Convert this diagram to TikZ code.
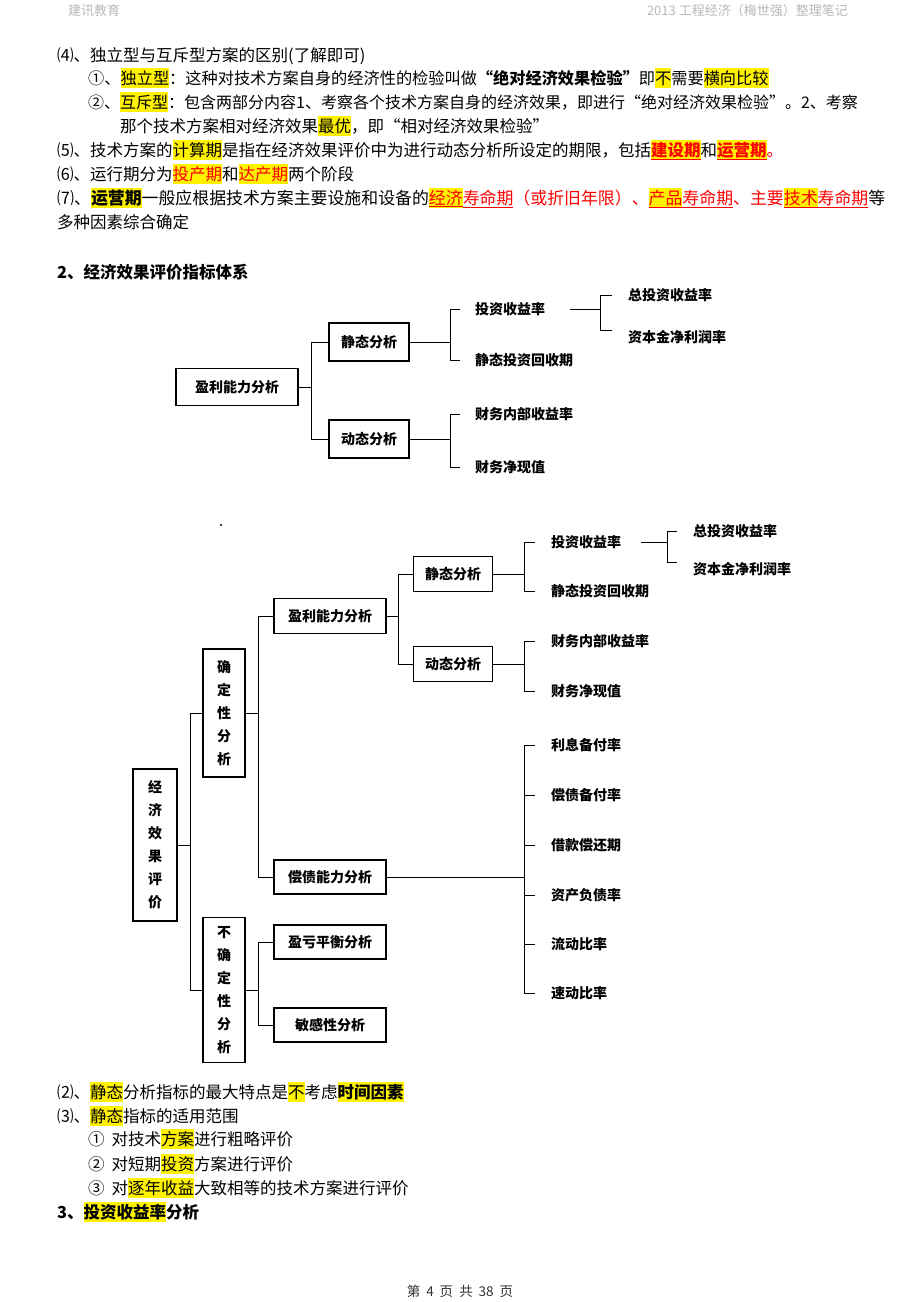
\documentclass[tikz,border=0pt]{standalone}
\usepackage{fontspec}
\setmainfont{Noto Sans CJK SC}
\usetikzlibrary{positioning}

% yellow marker and red underline used in the notes
\newcommand\hl[1]{{\setlength\fboxsep{0pt}\colorbox{yellow}{\rule[-4pt]{0pt}{20pt}#1}}}
\newcommand\redul[1]{\textcolor{red}{\underline{#1}}}

\tikzset{
  line/.style={anchor=base west, inner sep=0pt, font=\fontsize{16.5}{20}\selectfont},
  head/.style={line, font=\fontsize{13}{13}\selectfont, text=gray!55},
  box/.style={draw, line width=1.3pt, inner sep=0pt, font=\bfseries\fontsize{14}{14}\selectfont},
  vbox/.style={box, align=center, font=\bfseries\fontsize{14}{23}\selectfont},
  leaf/.style={anchor=west, inner sep=0pt, font=\bfseries\fontsize{14}{14}\selectfont},
  link/.style={line width=1pt},
}

\begin{document}
\begin{tikzpicture}[x=1pt,y=-1pt]
    \fill[white] (0,0) rectangle (920,1302);
    \useasboundingbox (0,0) rectangle (920,1302);

    % Page header
    \node[head] (hdl) at (68,15) {建讯教育};
    \node[head, anchor=base east] (hdr) at (848,15) {2013 工程经济（梅世强）整理笔记};

    % Notes above the charts
    \node[line] (l1) at (57,61) {⑷、独立型与互斥型方案的区别(了解即可)};
    \node[line, font=\fontsize{16.2}{20}\selectfont] (l2) at (88,84) {①、\hl{独立型}：这种对技术方案自身的经济性的检验叫做\textbf{“绝对经济效果检验”}即\hl{不}需要\hl{横向比较}};
    \node[line, font=\fontsize{16}{20}\selectfont] (l3) at (88,108) {②、\hl{互斥型}：包含两部分内容1、考察各个技术方案自身的经济效果，即进行“绝对经济效果检验”。2、考察};
    \node[line] (l4) at (120,132) {那个技术方案相对经济效果\hl{最优}，即“相对经济效果检验”};
    \node[line] (l5) at (57,156) {⑸、技术方案的\hl{计算期}是指在经济效果评价中为进行动态分析所设定的期限，包括\hl{\textbf{\redul{建设期}}}和\hl{\textbf{\redul{运营期}}}\textcolor{red}{。}};
    \node[line] (l6) at (57,180) {⑹、运行期分为\hl{\textcolor{red}{投产期}}和\hl{\textcolor{red}{达产期}}两个阶段};
    \node[line, font=\fontsize{16.9}{20}\selectfont] (l7) at (57,204) {⑺、\hl{\textbf{运营期}}一般应根据技术方案主要设施和设备的\hl{\redul{经济}}\redul{寿命期}\textcolor{red}{（或折旧年限）、}\hl{\redul{产品}}\redul{寿命期}\textcolor{red}{、主要}\hl{\redul{技术}}\redul{寿命期}等};
    \node[line] (l8) at (57,228) {多种因素综合确定};
    \node[line, font=\bfseries\fontsize{16.5}{20}\selectfont] (s2) at (57,278) {2、经济效果评价指标体系};

    % Chart 1
    \node[box, minimum width=122pt, minimum height=37pt] (yl1) at (237,387) {盈利能力分析};
    \node[box, minimum width=80pt, minimum height=38pt] (jt1) at (369,342) {静态分析};
    \node[box, minimum width=80pt, minimum height=38pt] (dt1) at (369,439) {动态分析};
    \node[leaf] (tz1) at (475,309) {投资收益率};
    \node[leaf] (jh1) at (475,360) {静态投资回收期};
    \node[leaf] (nb1) at (475,414) {财务内部收益率};
    \node[leaf] (jx1) at (475,467) {财务净现值};
    \node[leaf] (zt1) at (628,295) {总投资收益率};
    \node[leaf] (zb1) at (628,337) {资本金净利润率};

    \draw[link] (yl1.east) -- ++(13,0) coordinate (t1) (t1) |- (jt1.west) (t1) |- (dt1.west);
    \draw[link] (jt1.east) -- ++(41,0) coordinate (t2) (t2) |- ([xshift=-15pt]tz1.west) (t2) |- ([xshift=-15pt]jh1.west);
    \draw[link] (dt1.east) -- ++(41,0) coordinate (t3) (t3) |- ([xshift=-15pt]nb1.west) (t3) |- ([xshift=-15pt]jx1.west);
    \draw[link] ([xshift=25pt]tz1.east) -- ++(30,0) coordinate (t4) (t4) |- ([xshift=-16pt]zt1.west) (t4) |- ([xshift=-16pt,yshift=7pt]zb1.west);

    % Chart 2
    \fill (221,525) circle (1.2pt);
    \node[vbox, minimum width=44pt, minimum height=152pt] (jj) at (155,845) {经\\济\\效\\果\\评\\价};
    \node[vbox, minimum width=42pt, minimum height=128pt] (qd) at (224,713) {确\\定\\性\\分\\析};
    \node[vbox, minimum width=42pt, minimum height=145pt] (bq) at (224,990) {不\\确\\定\\性\\分\\析};
    \node[box, minimum width=112pt, minimum height=35pt] (yl2) at (330,616) {盈利能力分析};
    \node[box, minimum width=112pt, minimum height=34pt] (cz2) at (330,877) {偿债能力分析};
    \node[box, minimum width=112pt, minimum height=34pt] (yk2) at (330,942) {盈亏平衡分析};
    \node[box, minimum width=112pt, minimum height=34pt] (mg2) at (330,1025) {敏感性分析};
    \node[box, minimum width=79pt, minimum height=35pt] (jt2) at (453,574) {静态分析};
    \node[box, minimum width=79pt, minimum height=35pt] (dt2) at (453,664) {动态分析};
    \node[leaf] (tz2) at (551,542) {投资收益率};
    \node[leaf] (jh2) at (551,591) {静态投资回收期};
    \node[leaf] (nb2) at (551,641) {财务内部收益率};
    \node[leaf] (jx2) at (551,691) {财务净现值};
    \node[leaf] (zt2) at (693,531) {总投资收益率};
    \node[leaf] (zb2) at (693,569) {资本金净利润率};

    \draw[link] (jj.east) -- ++(13,0) coordinate (u1) (u1) |- (qd.west) (u1) |- (bq.west);
    \draw[link] (qd.east) -- ++(13,0) coordinate (u2) (u2) |- (yl2.west) (u2) |- (cz2.west);
    \draw[link] (bq.east) -- ++(13,0) coordinate (u3) (u3) |- (yk2.west) (u3) |- (mg2.west);
    \draw[link] (yl2.east) -- ++(12,0) coordinate (u4) (u4) |- (jt2.west) (u4) |- (dt2.west);
    \draw[link] (jt2.east) -- ++(31,0) coordinate (u5) (u5) |- ([xshift=-16pt]tz2.west) (u5) |- ([xshift=-16pt]jh2.west);
    \draw[link] (dt2.east) -- ++(31,0) coordinate (u6) (u6) |- ([xshift=-16pt]nb2.west) (u6) |- ([xshift=-16pt]jx2.west);
    \draw[link] ([xshift=20pt]tz2.east) -- ++(26,0) coordinate (u7) (u7) |- ([xshift=-16pt]zt2.west) (u7) |- ([xshift=-16pt,yshift=7pt]zb2.west);
    \draw[link] (cz2.east) -- ++(138,0) coordinate (u8);
    \foreach \n/\t/\y in {lx/利息备付率/745, cb/偿债备付率/795, jk/借款偿还期/845, zc/资产负债率/895, ld/流动比率/944, sd/速动比率/993} {
        \node[leaf] (\n) at (551,\y) {\t};
        \draw[link] (u8) |- ([xshift=-16pt]\n.west);
    }

    % Notes below the charts
    \node[line] (p2) at (57,1098) {⑵、\hl{静态}分析指标的最大特点是\hl{不}考虑\hl{\textbf{时间因素}}};
    \node[line] (p3) at (57,1122) {⑶、\hl{静态}指标的适用范围};
    \node[line] (p31) at (88,1145) {①\hspace{7pt}对技术\hl{方案}进行粗略评价};
    \node[line] (p32) at (88,1170) {②\hspace{7pt}对短期\hl{投资}方案进行评价};
    \node[line] (p33) at (88,1194) {③\hspace{7pt}对\hl{逐年收益}大致相等的技术方案进行评价};
    \node[line, font=\bfseries\fontsize{16.5}{20}\selectfont] (s3) at (57,1218) {3、\hl{投资收益率}分析};

    % Page footer
    \node[line, anchor=base, font=\fontsize{13.5}{14}\selectfont, text=black!80] (ft) at (460,1296) {第\hspace{6pt}4\hspace{6pt}页\hspace{6pt}共\hspace{6pt}38\hspace{6pt}页};
\end{tikzpicture}
\end{document}
